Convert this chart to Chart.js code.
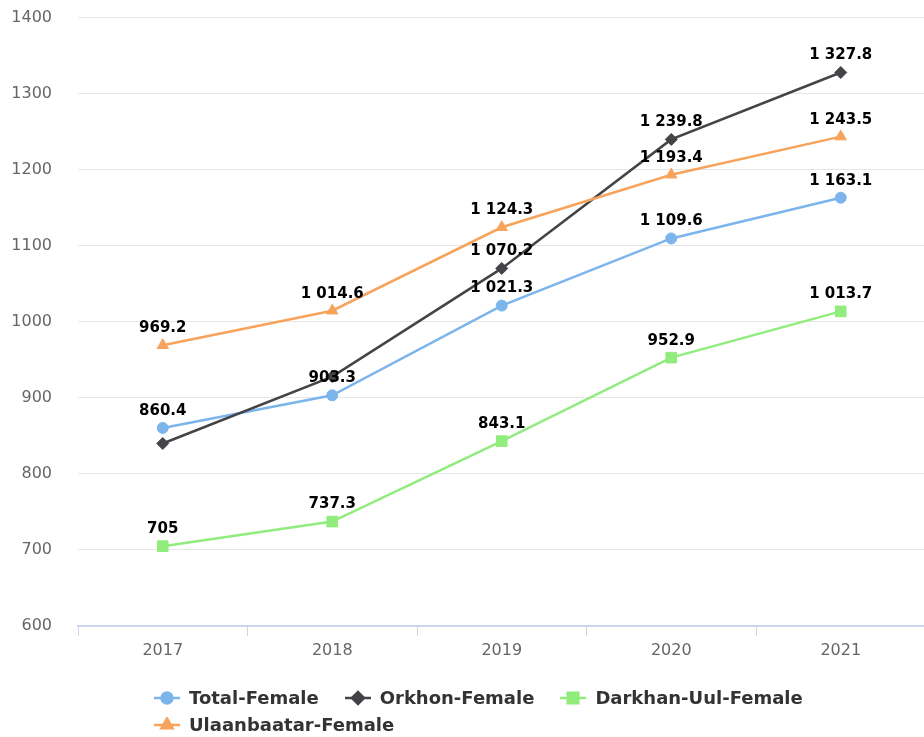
<!DOCTYPE html>
<html>
<head>
<meta charset="utf-8">
<script src="https://cdn.jsdelivr.net/npm/chart.js@4.4.1/dist/chart.umd.min.js"></script>
<style>
html, body { margin: 0; padding: 0; background: #fff; overflow: hidden; }
#wrap { position: relative; width: 934px; height: 737px; overflow: hidden; }
#cv { position: absolute; left: 0; top: -18px; width: 934px; height: 755px; }
#legend { position: absolute; left: 153px; top: 684px; width: 700px; display: flex; flex-wrap: wrap;
  font: bold 18px "DejaVu Sans", sans-serif; color: #333; }
.item { display: flex; align-items: center; height: 27px; margin-right: 25px; }
.item canvas { margin-right: 8px; }
</style>
</head>
<body>
<div id="wrap"><div id="cv"><canvas id="chart"></canvas></div><div id="legend"></div></div>
<script>
// data
const years = ['2017', '2018', '2019', '2020', '2021'];
const totalFemale = [860.4, 903.3, 1021.3, 1109.6, 1163.1];
const orkhonFemale = [840, 928, 1070.2, 1239.8, 1327.8];
const darkhanFemale = [705, 737.3, 843.1, 952.9, 1013.7];
const ulaanbaatarFemale = [969.2, 1014.6, 1124.3, 1193.4, 1243.5];
const yTicks = [600, 700, 800, 900, 1000, 1100, 1200, 1300, 1400];

const series = [
    { label: 'Total-Female', data: totalFemale, color: '#7cb5ec', style: 'circle', r: 5.5 },
    { label: 'Orkhon-Female', data: orkhonFemale, color: '#434348', style: 'rectRot', r: 6 },
    { label: 'Darkhan-Uul-Female', data: darkhanFemale, color: '#90ed7d', style: 'rect', r: 7.5 },
    { label: 'Ulaanbaatar-Female', data: ulaanbaatarFemale, color: '#f7a35c', style: 'triangle', r: 6.5 }
];

// 1 327.8 style formatting
function fmt(v) {
    const parts = String(v).split('.');
    return parts[0].replace(/\B(?=(\d{3})+(?!\d))/g, ' ') + (parts[1] ? '.' + parts[1] : '');
}

// data labels above the points, hide the ones that overlap
const pointLabels = {
    id: 'pointLabels',
    afterDatasetsDraw(chart) {
        const ctx = chart.ctx;
        const boxes = [];
        ctx.save();
        ctx.font = 'bold 15px "DejaVu Sans"';
        ctx.textAlign = 'center';
        ctx.textBaseline = 'middle';
        chart.data.datasets.forEach((ds, i) => {
            chart.getDatasetMeta(i).data.forEach((pt, j) => {
                const txt = fmt(ds.data[j]);
                const w = ctx.measureText(txt).width;
                const x = pt.x, y = pt.y - 17;
                const b = { l: x - w / 2 - 3, r: x + w / 2 + 3, t: y - 11, b: y + 11 };
                if (boxes.some(o => b.l < o.r && b.r > o.l && b.t < o.b && b.b > o.t)) return;
                boxes.push(b);
                ctx.fillStyle = '#000';
                ctx.fillText(txt, x, y);
            });
        });
        ctx.restore();
    }
};

const tickFont = { family: 'DejaVu Sans', size: 16 };

new Chart(document.getElementById('chart'), {
    type: 'line',
    data: {
        labels: years,
        datasets: series.map((s, i) => ({
            label: s.label,
            data: s.data,
            borderColor: s.color,
            backgroundColor: s.color,
            borderWidth: 2.5,
            tension: 0,
            pointStyle: s.style,
            pointRadius: s.r,
            pointHoverRadius: s.r,
            pointBorderWidth: 1,
            pointBackgroundColor: s.color,
            pointBorderColor: s.color,
            order: series.length - i
        }))
    },
    options: {
        responsive: true,
        maintainAspectRatio: false,
        animation: false,
        layout: { padding: { top: 0, right: 0, left: 0, bottom: 0 } },
        plugins: { legend: { display: false }, tooltip: { enabled: false } },
        scales: {
            x: {
                offset: true,
                grid: { offset: true, drawOnChartArea: false, tickLength: 10, color: '#ccd6eb' },
                border: { color: '#ccd6eb', width: 2 },
                ticks: { color: '#666', font: tickFont, padding: 5 },
                afterFit(s) { s.height = 111; }
            },
            y: {
                min: 600,
                max: 1400,
                afterBuildTicks(s) { s.ticks = yTicks.map(v => ({ value: v })); },
                ticks: { color: '#666', font: tickFont, padding: 26, callback: v => String(v) },
                grid: { color: '#e6e6e6', drawTicks: false },
                border: { display: false },
                afterFit(s) { s.width = 78; }
            }
        }
    },
    plugins: [pointLabels]
});

// legend: line + marker, like the original
const legend = document.getElementById('legend');
series.forEach(s => {
    const item = document.createElement('div');
    item.className = 'item';
    const c = document.createElement('canvas');
    c.width = 28; c.height = 16;
    const g = c.getContext('2d');
    g.strokeStyle = s.color;
    g.fillStyle = s.color;
    g.lineWidth = 2.5;
    g.beginPath(); g.moveTo(1, 8); g.lineTo(27, 8); g.stroke();
    Chart.helpers.drawPoint(g, { pointStyle: s.style, radius: s.r, rotation: 0, borderWidth: 1 }, 14, 8);
    item.appendChild(c);
    const t = document.createElement('span');
    t.textContent = s.label;
    item.appendChild(t);
    legend.appendChild(item);
});
</script>
</body>
</html>
